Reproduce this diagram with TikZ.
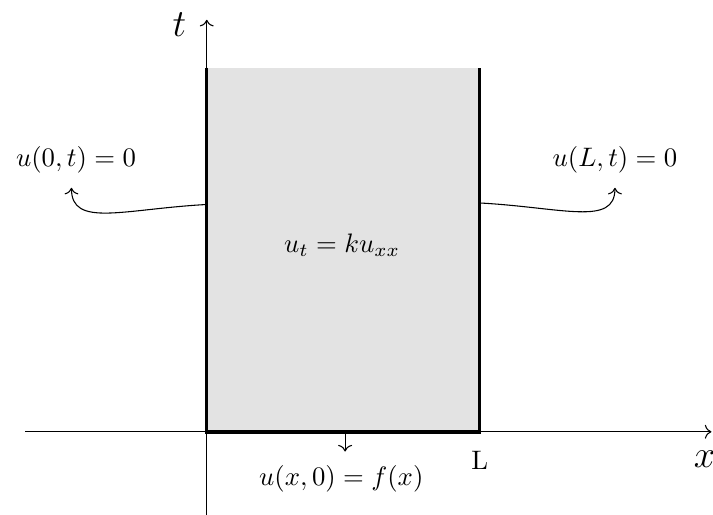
\documentclass[tikz,border=0pt]{standalone}
\usepackage{amsmath,amssymb}
\usepackage{tikz}
\usetikzlibrary{arrows.meta,positioning,calc}
\definecolor{regiongray}{HTML}{E3E3E3}

\begin{document}
\begin{tikzpicture}[
  edge/.style={line width=1.3pt},
  axis/.style={->},
  arr/.style={->},
]
\useasboundingbox (-2.72,-1.09) rectangle (6.66,5.68);
% region
\fill[regiongray] (0,0) rectangle (3.59,4.79);
\coordinate (o) at (0,0);
\coordinate (lt) at (0,4.79);
\coordinate (rb) at (3.59,0);
\coordinate (rt) at (3.59,4.79);
% axes
\coordinate (xs) at (-2.39,0);
\coordinate (xe) at (6.64,0);
\coordinate (ys) at (0,-1.09);
\coordinate (ye) at (0,5.42);
\draw[axis] (xs) -- (xe);
\draw[axis] (ys) -- (ye);
\node (tlab) at (-0.36,5.36) {\Large $t$};
\node (xlab) at (6.55,-0.36) {\Large $x$};
\node (Llab) at (3.59,-0.38) {L};
% boundary
\draw[edge] (lt) -- (o) -- (rb) -- (rt);
\node (pde) at (1.78,2.46) {$u_t = k u_{xx}$};
\node (init) at (1.77,-0.62) {$u(x,0) = f(x)$};
\coordinate (bot) at (1.82,0);
\coordinate (bottip) at (1.82,-0.26);
\draw[arr] (bot) -- (bottip);
\node (leftbc) at (-1.72,3.58) {$u(0,t) = 0$};
\node (rightbc) at (5.37,3.58) {$u(L,t) = 0$};
\coordinate (lp) at (0,2.99);
\coordinate (rp) at (3.59,3.01);
\coordinate (ltip) at (-1.78,3.21);
\coordinate (rtip) at (5.37,3.21);
\draw[arr] (lp) .. controls ($(lp)+(-1.1,-0.06)$) and ($(ltip)+(0,-0.53)$) .. (ltip);
\draw[arr] (rp) .. controls ($(rp)+(1.1,-0.06)$) and ($(rtip)+(0,-0.51)$) .. (rtip);
\end{tikzpicture}
\end{document}
